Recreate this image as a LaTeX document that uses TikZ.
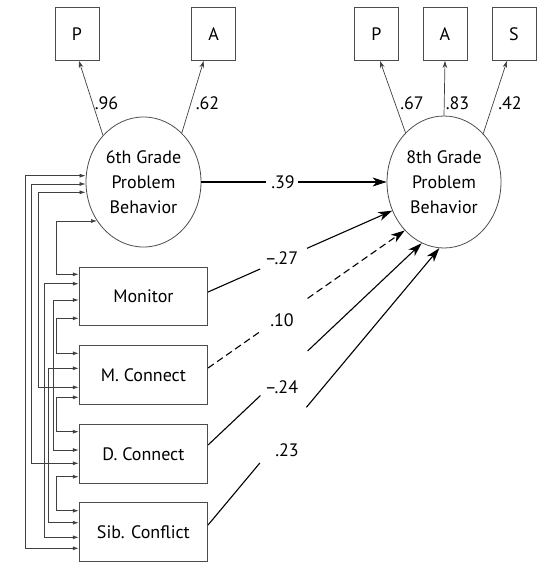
\documentclass[tikz,border=0pt]{standalone}
\usepackage{fontspec}
\setmainfont{PT Sans}
\usetikzlibrary{shapes.geometric,arrows.meta,calc}
\begin{document}
\begin{tikzpicture}[x=1pt,y=-1pt,
  every node/.style={font=\fontsize{18}{25}\selectfont},
  ind/.style={draw=black!70,line width=0.8pt,minimum width=44pt,minimum height=53pt,inner sep=0pt},
  lat/.style={ellipse,draw=black!70,line width=0.8pt,inner sep=0pt,align=center},
  pred/.style={draw=black!70,line width=0.8pt,minimum width=128.5pt,minimum height=58.5pt,inner sep=0pt},
  load/.style={draw=black!75,line width=0.7pt,-{Stealth[length=7pt,width=4.5pt]}},
  corr/.style={draw=black!75,line width=0.7pt,{Latex[length=6pt,width=4pt]}-{Latex[length=6pt,width=4pt]}},
  effect/.style={line width=1.1pt},
  effarr/.style={effect,-{Stealth[length=14pt,width=9pt,inset=4pt]}},
  lbl/.style={inner sep=0pt}
]
\useasboundingbox (0,0) rectangle (537,562);

% indicators
\node[ind] (p6) at (77,34) {P};
\node[ind] (a6) at (213.7,34) {A};
\node[ind] (p8) at (376.5,34) {P};
\node[ind] (a8) at (445,34) {A};
\node[ind] (s8) at (514,34) {S};

% latent variables
\node[lat,minimum width=115pt,minimum height=130pt] (b6) at (143.5,182) {6th Grade\\Problem\\Behavior};
\node[lat,minimum width=114pt,minimum height=132pt] (b8) at (444,182) {8th Grade\\Problem\\Behavior};

% predictors
\node[pred] (mon) at (143.4,296.5) {Monitor};
\node[pred] (mc) at (143.4,375) {M. Connect};
\node[pred] (dc) at (143.4,453.7) {D. Connect};
\node[pred] (sib) at (143.4,532) {Sib. Conflict};

% loadings
\draw[load] (b6.131) -- ([xshift=2pt]p6.south);
\draw[load] (b6.52) -- ([xshift=-10pt]a6.south);
\draw[load] (b8.128) -- ([xshift=3.5pt]p8.south);
\draw[load] (b8.90) -- (a8.south);
\draw[load] (b8.51) -- ([xshift=-7pt]s8.south);
\node[lbl] (l96) at (106.5,103.5) {.96};
\node[lbl] (l62) at (207.5,103.5) {.62};
\node[lbl] (l67) at (412,103.5) {.67};
\node[lbl] (l83) at (457.5,103.5) {.83};
\node[lbl] (l42) at (510,103.5) {.42};

% stability path
\path (b6.east) -- (b8.west) coordinate[pos=0.35] (g1) coordinate[pos=0.52] (g2);
\draw[effect] (b6.east) -- (g1);
\draw[effarr] (g2) -- (b8.west);
\node[lbl] (l39) at (283,182) {.39};

% predictor paths
\coordinate (sm) at ([yshift=4.5pt]mon.east);
\path (sm) -- (b8.209) coordinate[pos=0.283] (m1) coordinate[pos=0.537] (m2);
\draw[effect] (sm) -- (m1);
\draw[effarr] (m2) -- (b8.209);
\node[lbl] (l27) at (281.5,258) {–.27};

\coordinate (sc) at ([yshift=7pt]mc.east);
\path (sc) -- (b8.231) coordinate[pos=0.267] (c1) coordinate[pos=0.506] (c2);
\draw[effect,dash pattern=on 7pt off 4pt] (sc) -- (c1);
\draw[effarr,dash pattern=on 7pt off 4pt] (c2) -- (b8.231);
\node[lbl] (l10) at (282,320) {.10};

\coordinate (sd) at ([yshift=8.7pt]dc.east);
\path (sd) -- (b8.250) coordinate[pos=0.245] (d1) coordinate[pos=0.466] (d2);
\draw[effect] (sd) -- (d1);
\draw[effarr] (d2) -- (b8.250);
\node[lbl] (l24) at (281.5,387) {–.24};

\coordinate (ss) at ([yshift=7pt]sib.east);
\path (ss) -- (b8.266) coordinate[pos=0.224] (s1) coordinate[pos=0.425] (s2);
\draw[effect] (ss) -- (s1);
\draw[effarr] (s2) -- (b8.266);
\node[lbl] (l23) at (287,450) {.23};

% correlation rails
\coordinate (L26) at (25.7,0);
\coordinate (L32) at (31.7,0);
\coordinate (L38) at (38.3,0);
\coordinate (L44) at (44.3,0);
\coordinate (L48) at (48.3,0);
\coordinate (L53) at (53,0);
\coordinate (L57) at (56.7,0);

\coordinate (e1) at ([yshift=6.3pt]b6.west);
\coordinate (e2) at ([yshift=-2pt]b6.west);
\coordinate (e3) at ([yshift=-10.3pt]b6.west);
\coordinate (e4) at (b6.220);

\coordinate (mA) at ([yshift=22.2pt]mon.west);
\coordinate (mB) at ([yshift=12.8pt]mon.west);
\coordinate (mC) at ([yshift=-3.5pt]mon.west);
\coordinate (mD) at ([yshift=-21.8pt]mon.west);
\coordinate (cA) at ([yshift=21.7pt]mc.west);
\coordinate (cB) at ([yshift=6.7pt]mc.west);
\coordinate (cC) at ([yshift=-12.3pt]mc.west);
\coordinate (cD) at ([yshift=-22.3pt]mc.west);
\coordinate (dA) at ([yshift=22pt]dc.west);
\coordinate (dB) at ([yshift=3.7pt]dc.west);
\coordinate (dC) at ([yshift=-9.6pt]dc.west);
\coordinate (dD) at ([yshift=-23pt]dc.west);
\coordinate (sA) at ([yshift=21.3pt]sib.west);
\coordinate (sB) at ([yshift=9.3pt]sib.west);
\coordinate (sC) at ([yshift=-5.3pt]sib.west);
\coordinate (sD) at ([yshift=-16.3pt]sib.west);

\draw[corr] (e1) -- (e1 -| L26) |- (sD);
\draw[corr] (e2) -- (e2 -| L32) |- (dC);
\draw[corr] (e3) -- (e3 -| L38) |- (cC);
\draw[corr] (e4) -- (e4 -| L57) |- (mA);
\draw[corr] (mB) -- (mB -| L44) |- (sC);
\draw[corr] (mC) -- (mC -| L53) |- (dB);
\draw[corr] (mD) -- (mD -| L57) |- (cA);
\draw[corr] (cB) -- (cB -| L48) |- (sB);
\draw[corr] (cD) -- (cD -| L57) |- (dA);
\draw[corr] (dD) -- (dD -| L57) |- (sA);
\end{tikzpicture}
\end{document}
